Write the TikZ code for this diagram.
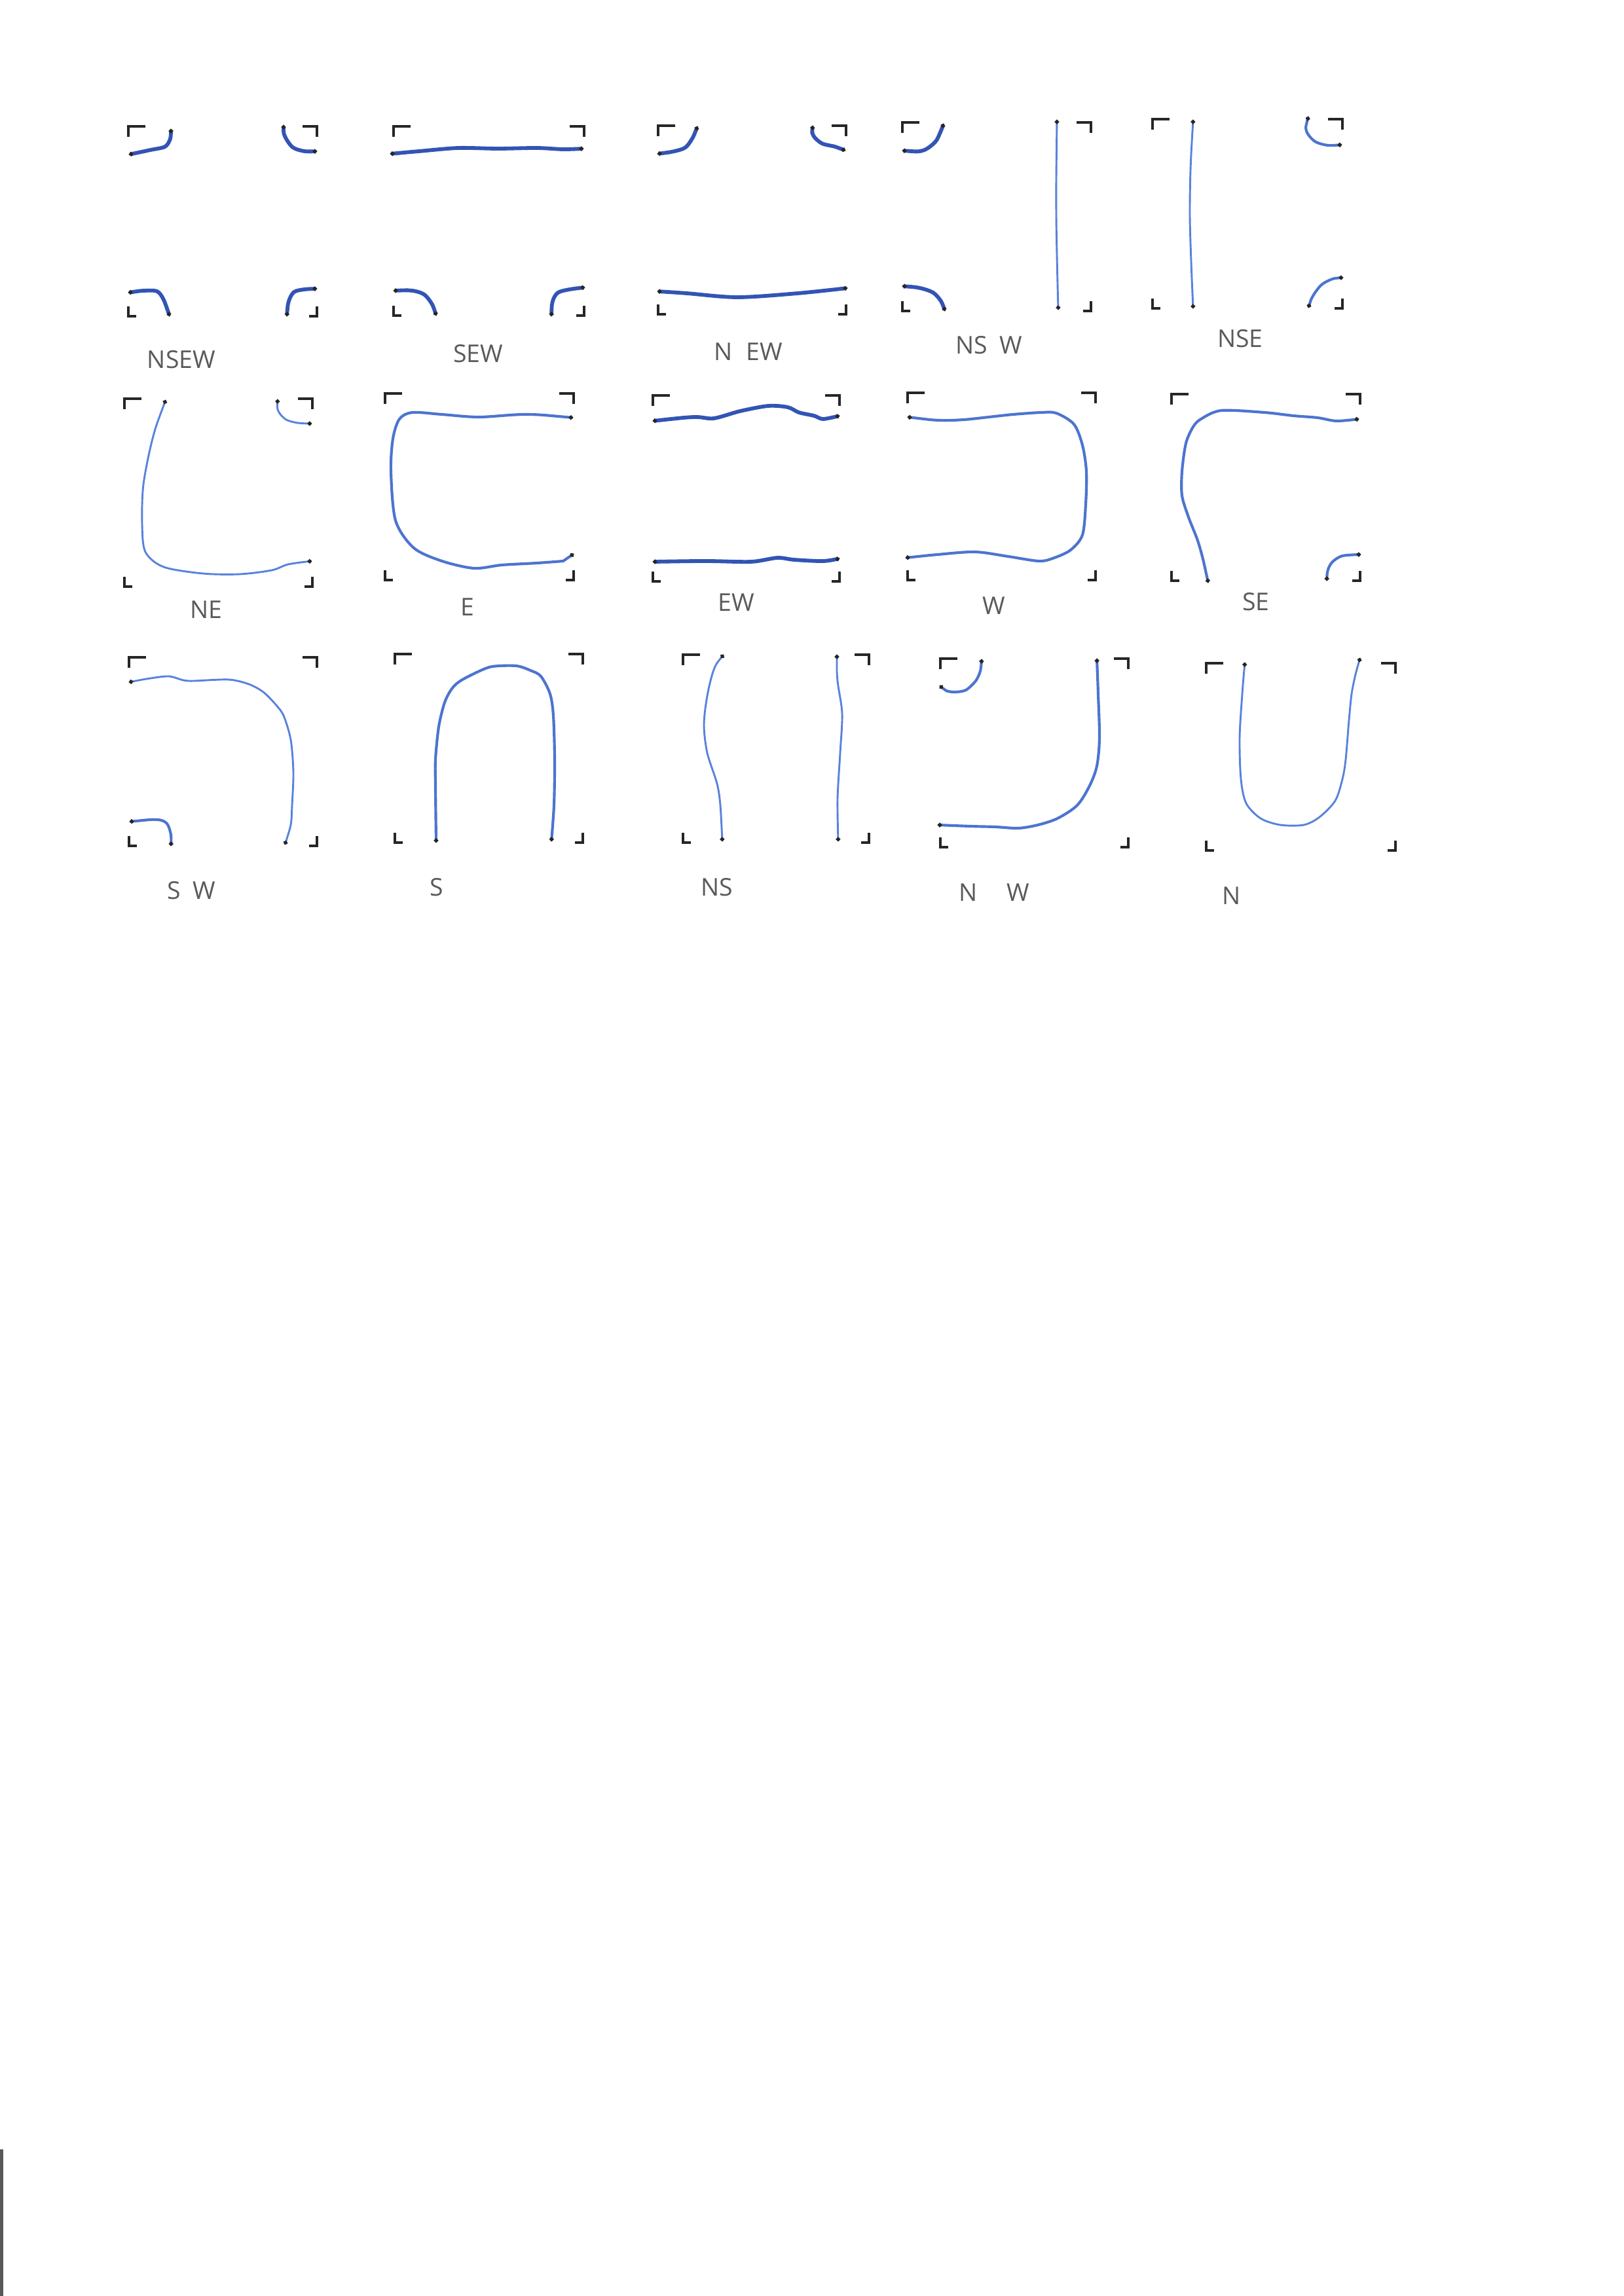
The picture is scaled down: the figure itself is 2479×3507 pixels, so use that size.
\documentclass[tikz,border=0pt]{standalone}
\usepackage{fontspec}
\setmainfont{Open Sans}
\usetikzlibrary{arrows.meta}

\definecolor{inklight}{RGB}{88,130,220}
\definecolor{inkdark}{RGB}{50,84,180}
\definecolor{labelgray}{RGB}{90,90,90}

% the four bracket marks of one tile: x0 y0 x1 y1
\newcommand{\tilecorners}[4]{%
  \draw[cornermark] ({#1+26},#2) -- (#1,#2) -- (#1,{#2+16});
  \draw[cornermark] ({#3-22},#2) -- (#3,#2) -- (#3,{#2+16});
  \draw[cornermark] (#1,{#4-15}) -- (#1,#4) -- ({#1+12},#4);
  \draw[cornermark] (#3,{#4-15}) -- (#3,#4) -- ({#3-12},#4);
}

\begin{document}
\begin{tikzpicture}[
  x=0.0084712cm, y=-0.0084712cm,
  cornermark/.style={line width=0.8pt, black!85},
  pathend/.style={{Circle[length=1.5pt,color=black!85]}-{Circle[length=1.5pt,color=black!85]}},
  inkthin/.style={pathend, line width=0.7pt, inklight, line cap=round},
  inkmid/.style={pathend, line width=1pt, inklight!70!inkdark, line cap=round},
  inkthick/.style={pathend, line width=1.4pt, inkdark, line cap=round},
  tilename/.style={font=\fontsize{9}{11}\selectfont, text=labelgray, inner sep=0pt}
]
\fill[white] (0,0) rectangle (2479,3507);
\useasboundingbox (0,0) rectangle (2479,3507);

% ---- row 1
\tilecorners{196}{193}{484}{483}
\draw[inkthick] plot[smooth] coordinates {(197,236) (230,229) (252,224) (260,212) (261,197)};
\draw[inkthick] plot[smooth] coordinates {(433,191) (435,208) (447,225) (465,231) (484,231)};
\draw[inkthick] plot[smooth] coordinates {(196,447) (220,444) (240,445) (250,458) (259,483)};
\draw[inkthick] plot[smooth] coordinates {(438,483) (441,460) (449,446) (465,442) (484,441)};
\node[tilename] (lNSEW) at (277,549) {NSEW};

\tilecorners{601}{193}{892}{482}
\draw[inkthick] plot[smooth] coordinates {(596,235) (640,231) (700,226) (760,227) (820,226) (860,228) (891,227)};
\draw[inkthick] plot[smooth] coordinates {(601,444) (630,444) (648,450) (660,465) (666,482)};
\draw[inkthick] plot[smooth] coordinates {(842,483) (844,460) (852,447) (870,442) (893,439)};
\node[tilename] (lSEW) at (730,540) {SEW};

\tilecorners{1005}{192}{1292}{480}
\draw[inkthick] plot[smooth] coordinates {(1004,235) (1030,231) (1047,225) (1058,210) (1065,193)};
\draw[inkthick] plot[smooth] coordinates {(1241,192) (1242,207) (1255,219) (1275,224) (1291,230)};
\draw[inkthick] plot[smooth] coordinates {(1004,445) (1049,448) (1126,454) (1218,448) (1294,440)};
\node[tilename] (lNEW) at (1143,537) {N\hspace{0.55em}EW};

\tilecorners{1378}{187}{1666}{475}
\draw[inkthick] plot[smooth] coordinates {(1378,230) (1409,230) (1428,217) (1436,202) (1441,189)};
\draw[inkthick] plot[smooth] coordinates {(1378,437) (1405,440) (1425,447) (1437,460) (1443,475)};
\draw[inkthin] plot[smooth] coordinates {(1614,183) (1613,330) (1616,473)};
\node[tilename] (lNSW) at (1510,527) {NS\hspace{0.5em}W};

\tilecorners{1760}{182}{2050}{471}
\draw[inkthin] plot[smooth] coordinates {(1822,183) (1818,260) (1817,330) (1819,400) (1822,471)};
\draw[inkmid] plot[smooth] coordinates {(1998,178) (1995,200) (2008,216) (2028,222) (2049,221)};
\draw[inkmid] plot[smooth] coordinates {(1998,470) (2005,452) (2018,435) (2035,426) (2051,424)};
\node[tilename] (lNSE) at (1894,517) {NSE};

% ---- row 2
\tilecorners{190}{609}{477}{896}
\draw[inkthin] plot[smooth] coordinates {(253,611) (233,670) (219,740) (217,800) (222,843) (250,866) (310,876) (366,877) (415,871) (440,862) (476,857)};
\draw[inkthin] plot[smooth] coordinates {(424,610) (425,628) (437,641) (455,646) (476,647)};
\node[tilename] (lNE) at (315,931) {NE};

\tilecorners{588}{601}{876}{886}
\draw[inkmid] plot[smooth] coordinates {(875,638) (802,633) (731,637) (675,633) (630,630) (610,640) (600,670) (597,720) (604,795) (632,837) (675,857) (724,868) (766,863) (820,860) (860,857)} -- (876,846);
\node[tilename] (lE) at (714,927) {E};

\tilecorners{997}{604}{1282}{888}
\draw[inkthick] plot[smooth] coordinates {(997,643) (1060,637) (1090,639) (1130,628) (1173,620) (1203,622) (1220,630) (1243,635) (1257,640) (1282,635)};
\draw[inkthick] plot[smooth] coordinates {(997,858) (1080,857) (1147,858) (1187,852) (1213,855) (1257,857) (1282,853)};
\node[tilename] (lEW) at (1124,920) {EW};

\tilecorners{1386}{600}{1673}{886}
\draw[inkmid] plot[smooth] coordinates {(1386,637) (1435,642) (1472,641) (1510,637) (1547,633) (1590,630) (1613,631) (1640,648) (1653,680) (1659,720) (1658,770) (1653,817) (1635,840) (1610,852) (1587,857) (1540,850) (1489,843) (1432,847) (1383,852)};
\node[tilename] (lW) at (1518,925) {W};

\tilecorners{1789}{602}{2077}{887}
\draw[inkmid] plot[smooth] coordinates {(1845,890) (1836,850) (1828,823) (1815,790) (1805,757) (1805,720) (1811,677) (1822,652) (1834,640) (1865,627) (1931,630) (1975,635) (2012,638) (2041,643) (2075,640)};
\draw[inkmid] plot[smooth] coordinates {(2026,887) (2028,870) (2035,858) (2050,849) (2078,847)};
\node[tilename] (lSE) at (1918,919) {SE};

% ---- row 3
\tilecorners{197}{1004}{484}{1292}
\draw[inkthin] plot[smooth] coordinates {(197,1042) (230,1036) (258,1033) (280,1039) (296,1040) (349,1038) (380,1045) (402,1057) (420,1075) (433,1093) (444,1130) (448,1180) (446,1230) (444,1260) (435,1290)};
\draw[inkmid] plot[smooth] coordinates {(198,1255) (240,1252) (255,1258) (261,1275) (261,1292)};
\node[tilename] (lSW) at (292,1360) {S\hspace{0.5em}W};

\tilecorners{603}{999}{890}{1287}
\draw[inkmid] plot[smooth] coordinates {(666,1287) (665,1200) (665,1160) (670,1110) (679,1073) (690,1052) (703,1040) (730,1026) (752,1018) (788,1017) (810,1024) (826,1033) (840,1060) (845,1093) (847,1160) (846,1230) (842,1285)};
\node[tilename] (lS) at (667,1355) {S};

\tilecorners{1043}{1000}{1327}{1287}
\draw[inkthin] plot[smooth] coordinates {(1105,1000) (1090,1023) (1080,1063) (1075,1107) (1080,1150) (1095,1197) (1100,1230) (1103,1285)};
\draw[inkthin] plot[smooth] coordinates {(1278,1000) (1279,1040) (1286,1090) (1283,1150) (1279,1220) (1280,1285)};
\node[tilename] (lNS) at (1095,1355) {NS};

\tilecorners{1436}{1006}{1723}{1294}
\draw[inkmid] plot[smooth] coordinates {(1435,1047) (1445,1055) (1458,1057) (1475,1054) (1490,1040) (1497,1025) (1499,1007)};
\draw[inkmid] plot[smooth] coordinates {(1675,1006) (1677,1060) (1679,1127) (1675,1170) (1664,1200) (1645,1230) (1615,1250) (1585,1260) (1555,1265) (1520,1263) (1482,1262) (1432,1260)};
\node[tilename] (lNW) at (1518,1363) {N\hspace{1.2em}W};

\tilecorners{1842}{1013}{2131}{1299}
\draw[inkthin] plot[smooth] coordinates {(1901,1012) (1897,1060) (1893,1127) (1895,1190) (1903,1227) (1925,1250) (1955,1260) (1991,1260) (2015,1248) (2039,1223) (2050,1190) (2055,1160) (2060,1100) (2064,1060) (2070,1030) (2077,1005)};
\node[tilename] (lN) at (1881,1368) {N};

% scanner edge
\fill[black!65] (0,3283) rectangle (5,3507);
\end{tikzpicture}
\end{document}
